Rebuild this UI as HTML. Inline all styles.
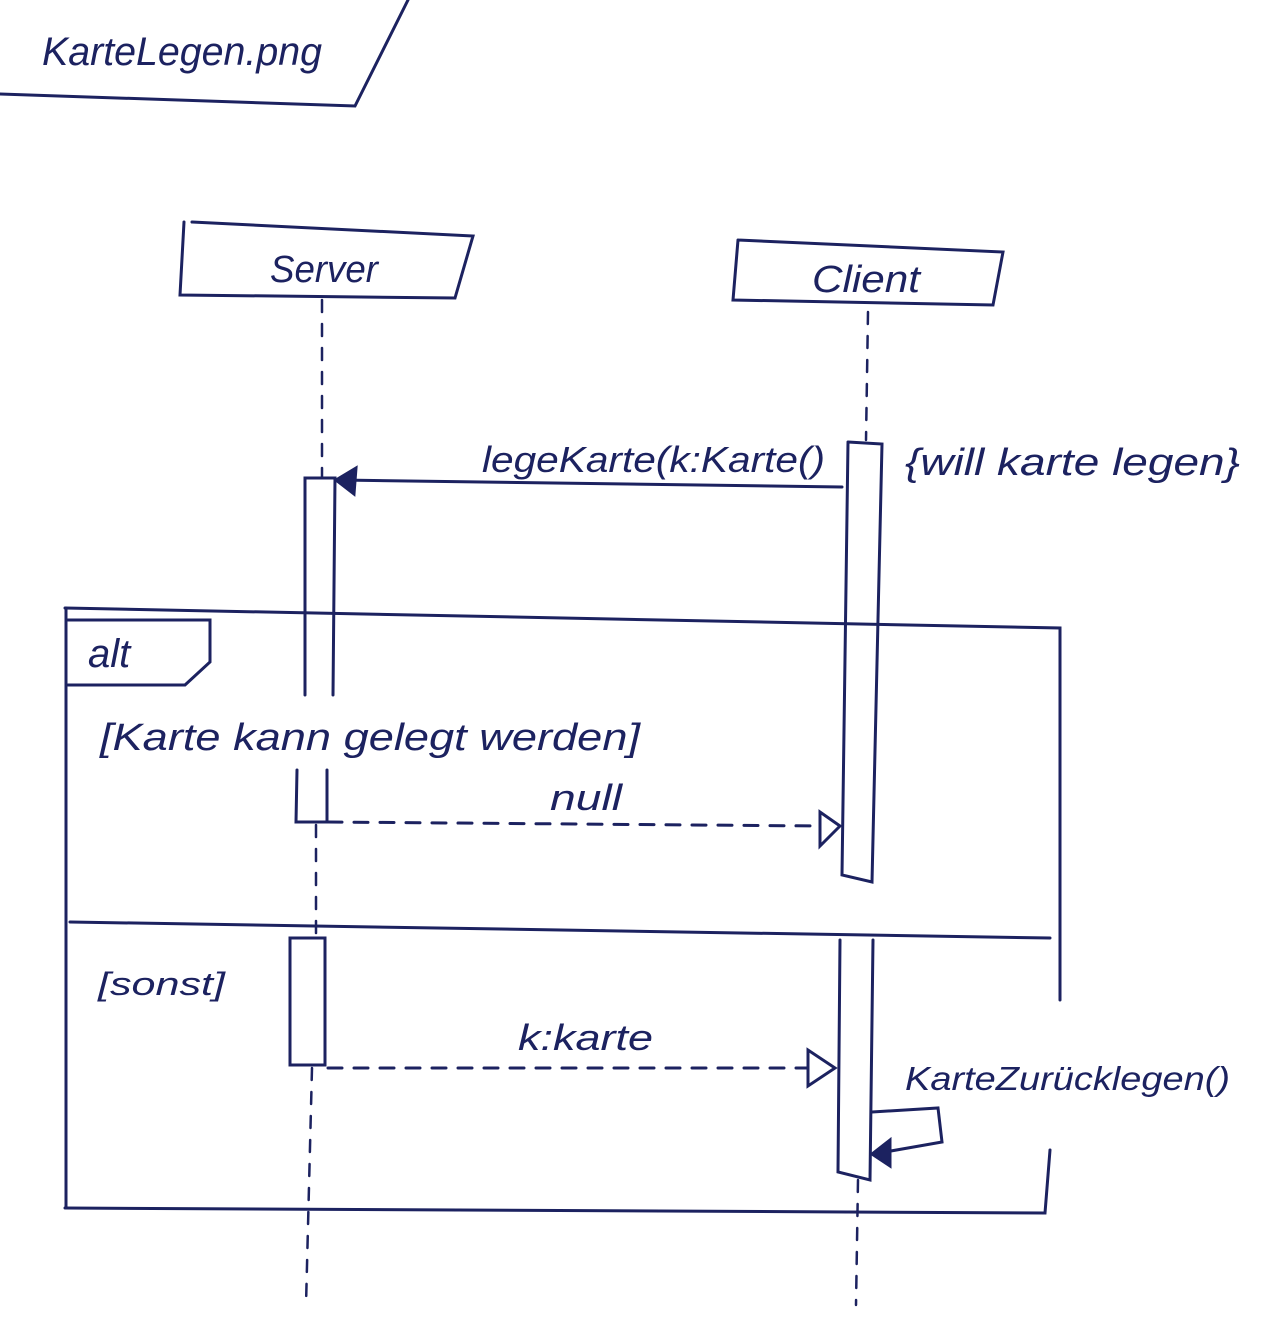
<!DOCTYPE html>
<html><head><meta charset="utf-8"><style>
html,body{margin:0;padding:0;background:#fff;}
svg{display:block}
text{font-family:"Liberation Sans",sans-serif;font-style:italic;fill:#1c2260}
</style></head><body>
<svg width="1262" height="1318" viewBox="0 0 1262 1318" xmlns="http://www.w3.org/2000/svg">
<g stroke="#1c2260" stroke-width="3" fill="none" stroke-linecap="round">
<polyline points="0,94 355,106 408,0"/>
<polyline points="192,222 473,236 455,298 180,295 184,222"/>
<polyline points="738,240 1003,252 993,305 733,300 738,240"/>
<g stroke-dasharray="12,12" stroke-width="2.5">
<line x1="322" y1="300" x2="322" y2="478"/>
<line x1="868" y1="312" x2="866" y2="440"/>
<line x1="316" y1="825" x2="316" y2="936"/>
<line x1="312" y1="1068" x2="306" y2="1305"/>
<line x1="858" y1="1180" x2="856" y2="1305"/>
</g>
<polyline points="305,695 305,478 335,478 333,695"/>
<polyline points="297,770 296,822 327,822 327,770"/>
<rect x="290" y="938" width="35" height="127"/>
<polyline points="848,442 882,444 872,882 842,875 848,442"/>
<polyline points="840,940 838,1172 870,1180 873,940"/>
<line x1="842" y1="487" x2="340" y2="480"/>
<polygon points="336,480 356,468 354,494" fill="#1c2260"/>
<polyline points="65,608 1060,628 1060,1000"/>
<line x1="66" y1="608" x2="66" y2="1208"/>
<polyline points="1050,1150 1045,1213 65,1208"/>
<polyline points="68,620 210,620 210,662 185,685 68,685"/>
<line x1="70" y1="922" x2="1050" y2="938"/>
<line x1="328" y1="822" x2="820" y2="826" stroke-dasharray="14,12"/>
<polygon points="840,826 820,812 820,846" fill="#fff"/>
<line x1="328" y1="1068" x2="808" y2="1068" stroke-dasharray="14,12"/>
<polygon points="835,1068 808,1050 808,1086" fill="#fff"/>
<polyline points="872,1112 938,1108 942,1142 885,1152"/>
<polygon points="872,1154 890,1140 890,1166" fill="#1c2260"/>
</g>
<text x="42" y="65" font-size="40" textLength="280" lengthAdjust="spacingAndGlyphs">KarteLegen.png</text>
<text x="270" y="282" font-size="38" textLength="108" lengthAdjust="spacingAndGlyphs">Server</text>
<text x="812" y="292" font-size="38" textLength="108" lengthAdjust="spacingAndGlyphs">Client</text>
<text x="482" y="472" font-size="36" textLength="343" lengthAdjust="spacingAndGlyphs">legeKarte(k:Karte()</text>
<text x="905" y="475" font-size="38" textLength="335" lengthAdjust="spacingAndGlyphs">{will karte legen}</text>
<text x="88" y="667" font-size="40">alt</text>
<text x="100" y="750" font-size="38" textLength="540" lengthAdjust="spacingAndGlyphs">[Karte kann gelegt werden]</text>
<text x="550" y="810" font-size="36" textLength="72" lengthAdjust="spacingAndGlyphs">null</text>
<text x="98" y="995" font-size="32" textLength="127" lengthAdjust="spacingAndGlyphs">[sonst]</text>
<text x="518" y="1050" font-size="36" textLength="135" lengthAdjust="spacingAndGlyphs">k:karte</text>
<text x="905" y="1090" font-size="33" textLength="325" lengthAdjust="spacingAndGlyphs">KarteZurücklegen()</text>
</svg>
</body></html>
